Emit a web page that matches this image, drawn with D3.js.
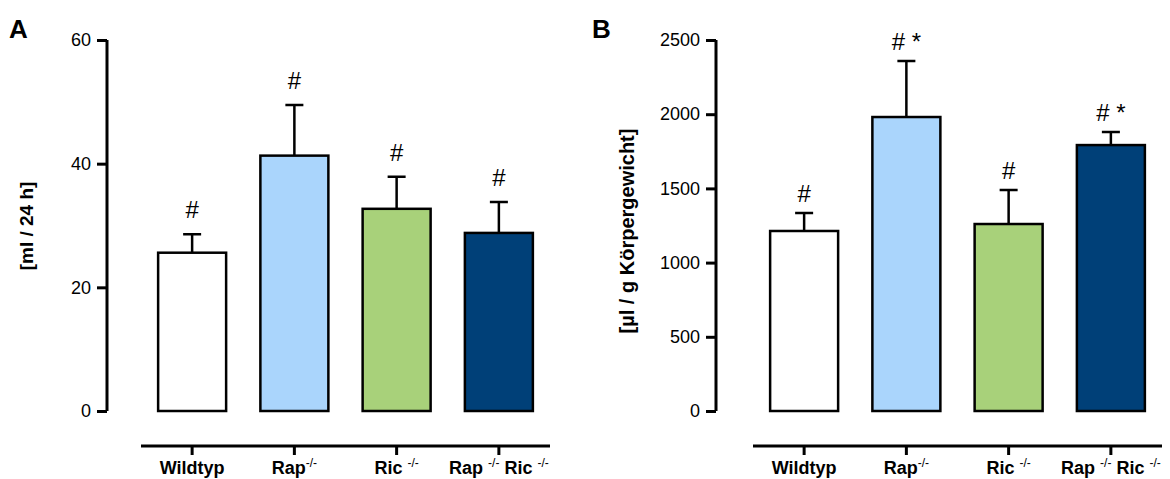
<!DOCTYPE html>
<html>
<head>
<meta charset="utf-8">
<script src="https://cdn.jsdelivr.net/npm/d3@7"></script>
<style>
  body { margin: 0; background: #fff; }
  text { font-family: "Liberation Sans", Arial, sans-serif; fill: #000; }
</style>
</head>
<body>
<svg id="chart" width="1170" height="479"></svg>
<script>
// categories and values
var groups = ["Wildtyp", "Rap", "Ric", "RapRic"];
var colors = ["#ffffff", "#aad5fc", "#a8d17a", "#004078"];

var urineMean = [25.6, 41.3, 32.7, 28.8];
var urineErr  = [3.0, 8.2, 5.2, 5.0];
var urineSig  = ["#", "#", "#", "#"];
var urineTicks = [0, 20, 40, 60];

var relMean = [1213, 1981, 1260, 1792];
var relErr  = [121, 377, 229, 88];
var relSig  = ["#", "# *", "#", "# *"];
var relTicks = [0, 500, 1000, 1500, 2000, 2500];

var svg = d3.select("#chart");

function panel(opt) {
  var g = svg.append("g");
  var top = 40, bottom = 411;

  var y = d3.scaleLinear().domain([0, opt.max]).range([bottom, top]);
  var x = d3.scaleBand()
            .domain(groups)
            .range([opt.x0, opt.x0 + 409])
            .paddingInner(0.335)
            .paddingOuter(0.1675);

  // y axis
  var yAxis = d3.axisLeft(y).tickValues(opt.ticks).tickSize(10).tickPadding(6).tickFormat(d3.format("d"));
  var ya = g.append("g")
    .attr("transform", "translate(" + opt.axisX + ",0)")
    .call(yAxis);
  ya.select(".domain").attr("d", "M0," + top + "V" + bottom).attr("stroke-width", 3);
  ya.selectAll(".tick line").attr("stroke-width", 3);
  ya.selectAll(".tick text").style("font-size", "18px");

  // x axis
  var xAxis = d3.axisBottom(x).tickSize(9).tickFormat("");
  var xa = g.append("g")
    .attr("transform", "translate(0,446)")
    .call(xAxis);
  xa.select(".domain").attr("d", "M" + opt.x0 + ",0H" + (opt.x0 + 409)).attr("stroke-width", 3);
  xa.selectAll(".tick line").attr("stroke-width", 3);

  // category labels with superscripts
  var lab = g.selectAll(".cat").data(groups).enter().append("text")
    .attr("class", "cat")
    .attr("x", function(d) { return x(d) + x.bandwidth() / 2; })
    .attr("y", 474)
    .attr("text-anchor", "middle")
    .style("font-size", "18px")
    .style("font-weight", "bold");
  lab.each(function(d) {
    var t = d3.select(this);
    function sup(s) { t.append("tspan").attr("dy", -7).style("font-size", "12px").style("font-weight", "normal").text(s); }
    function base(s) { t.append("tspan").attr("dy", 7).text(s); }
    if (d === "Wildtyp") t.text("Wildtyp");
    else if (d === "Rap") { t.append("tspan").text("Rap"); sup("-/-"); }
    else if (d === "Ric") { t.append("tspan").text("Ric "); sup("-/-"); }
    else { t.append("tspan").text("Rap "); sup("-/-"); base(" Ric "); sup("-/-"); }
  });

  // error bars
  g.selectAll(".err").data(groups).enter().append("path")
    .attr("fill", "none").attr("stroke", "#000").attr("stroke-width", 2.5)
    .attr("d", function(d, i) {
      var cx = x(d) + x.bandwidth() / 2;
      var yt = y(opt.mean[i] + opt.err[i]);
      return "M" + cx + "," + y(opt.mean[i]) + "V" + yt + "M" + (cx - 9) + "," + yt + "H" + (cx + 9);
    });

  // bars
  g.selectAll(".bar").data(groups).enter().append("rect")
    .attr("x", function(d) { return x(d); })
    .attr("y", function(d, i) { return y(opt.mean[i]); })
    .attr("width", x.bandwidth())
    .attr("height", function(d, i) { return bottom - y(opt.mean[i]); })
    .attr("fill", function(d, i) { return colors[i]; })
    .attr("stroke", "#000").attr("stroke-width", 2.5);

  // significance marks
  g.selectAll(".sig").data(groups).enter().append("text")
    .attr("x", function(d) { return x(d) + x.bandwidth() / 2; })
    .attr("y", function(d, i) { return y(opt.mean[i] + opt.err[i]) - opt.sigGap; })
    .attr("text-anchor", "middle")
    .style("font-size", "24px")
    .text(function(d, i) { return opt.sig[i]; });

  // y label
  g.append("text")
    .attr("transform", "translate(" + opt.labelX + "," + opt.labelY + ") rotate(-90)")
    .attr("text-anchor", "middle")
    .style("font-size", opt.labelSize)
    .style("font-weight", "bold")
    .text(opt.label);

  // panel letter
  g.append("text")
    .attr("x", opt.letterX).attr("y", 38)
    .style("font-size", "26px").style("font-weight", "bold")
    .text(opt.letter);
}

panel({ x0: 141, axisX: 107, max: 60, ticks: urineTicks, mean: urineMean, err: urineErr, sigGap: 16,
        sig: urineSig, label: "[ml / 24 h]", labelX: 33, labelY: 226, labelSize: "19px", letter: "A", letterX: 9 });
panel({ x0: 753, axisX: 716, max: 2500, ticks: relTicks, mean: relMean, err: relErr, sigGap: 11,
        sig: relSig, label: "[µl / g Körpergewicht]", labelX: 634, labelY: 231, labelSize: "20px", letter: "B", letterX: 592 });
</script>
</body>
</html>
